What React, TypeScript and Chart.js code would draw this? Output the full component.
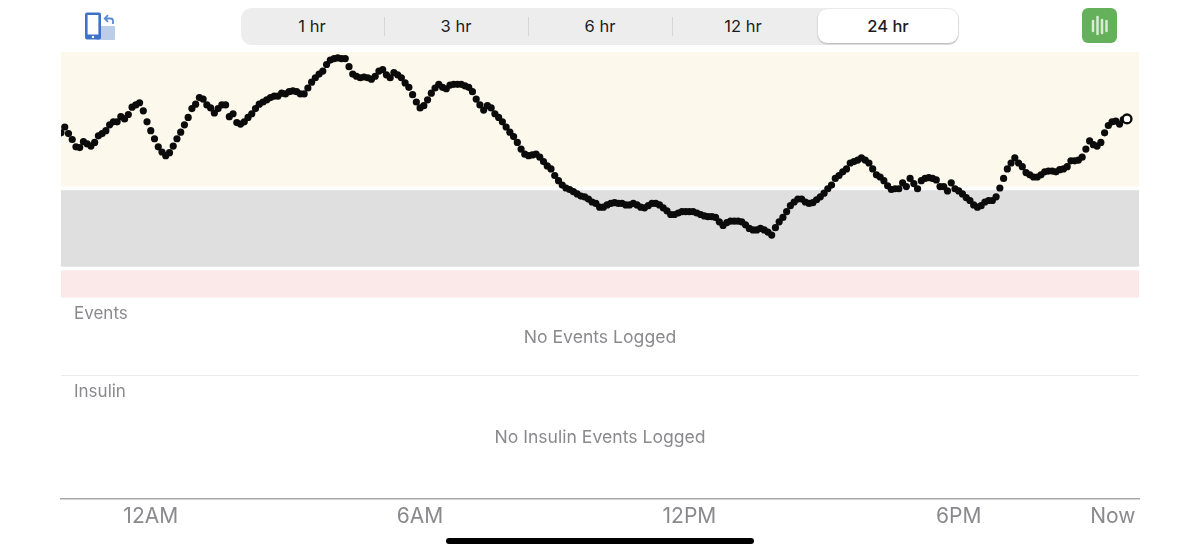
import { useEffect, useRef } from 'react';
import { Chart, registerables } from 'chart.js';

Chart.register(...registerables);

// one reading every 5 minutes, starting 2 hours before midnight (mg/dL)
const glucose = [
  255, 263, 254, 246, 236, 235, 243, 240, 237, 242, 251, 254, 258, 266, 270, 270, 277, 274, 280, 290,
  293, 296, 285, 270, 258, 247, 236, 229, 224, 228, 237, 247, 256, 266, 276, 288, 294, 303, 301, 293,
  289, 282, 288, 293, 293, 277, 281, 269, 267, 270, 276, 281, 288, 294, 297, 300, 303, 305, 305, 309,
  308, 311, 312, 311, 308,
  308, 316, 324, 330, 335, 339, 348, 354, 356, 357, 356, 356, 345, 335, 332, 330, 331, 330, 328, 332,
  339, 341, 334, 330, 337, 334, 330, 323, 317, 307, 297, 289, 292, 300, 309, 316, 321, 317, 315, 320,
  321, 321, 321, 319, 317, 311, 301, 293, 286, 292, 289, 281, 276, 270, 263, 256, 250, 242, 233, 226,
  224, 225, 226, 222,
  216, 210, 206, 197, 190, 184, 180, 178, 175, 172, 169, 168, 165, 161, 159, 154, 154, 157, 159, 160,
  159, 159, 157, 157, 159, 157, 154, 153, 156, 159, 159, 157, 153, 149, 144, 144, 146, 148, 148, 148,
  148, 146, 144, 142, 141, 141, 140, 134, 129, 133, 135, 135, 135, 134, 130, 125, 123, 123, 125, 123,
  120, 116, 126, 134, 140, 148, 156, 161,
  165, 165, 161, 159, 160, 164, 168, 173, 179, 184, 193, 197, 202, 206, 214, 216, 218, 221, 218, 214,
  206, 198, 195, 190, 183, 178, 179, 179, 187, 182, 193, 186, 179, 190, 193, 194, 193, 191, 182, 182,
  176, 187, 179, 176, 172, 167, 163, 157, 154, 156, 161, 163, 163, 168, 180, 193, 206, 214, 221, 214,
  209, 201, 198, 195, 195, 198, 202, 203, 203, 202, 205, 206, 209, 217, 217, 218, 222, 233, 244, 239,
  237, 242, 255, 265, 270, 271, 267, 273, 274,
];
const firstReadingMinute = -120;
const readingStep = 5;

const tickMinutes = [0, 360, 720, 1080, 1286];
const tickLabels = ['12AM', '6AM', '12PM', '6PM', 'Now'];

const bandTops = [365, 177, 68];
const bandBottoms = [182, 73, 31];
const bandColors = ['#FCF8EB', '#DFDFE0', '#FBE9E9'];

const ranges = ['1 hr', '3 hr', '6 hr', '12 hr', '24 hr'];

const grey = '#8A8A8E';
const font = 'Inter, "Noto Sans", sans-serif';

const bandsPlugin = {
  id: 'bands',
  beforeDatasetsDraw(chart: any) {
    const { ctx, chartArea, scales } = chart;
    bandTops.forEach((top, i) => {
      const y1 = scales.y.getPixelForValue(top);
      const y2 = scales.y.getPixelForValue(bandBottoms[i]);
      ctx.fillStyle = bandColors[i];
      ctx.fillRect(chartArea.left, y1, chartArea.right - chartArea.left, y2 - y1);
    });
  },
};

function Label({ text, left, top }: { text: string; left: number; top: number }) {
  return <div style={{ position: 'absolute', left, top, fontSize: 17, lineHeight: '20px', color: grey }}>{text}</div>;
}

function Centered({ text, top }: { text: string; top: number }) {
  return (
    <div style={{ position: 'absolute', left: 0, width: 1200, top, textAlign: 'center', fontSize: 17.6, lineHeight: '20px', color: grey }}>
      {text}
    </div>
  );
}

function Segments() {
  const centers = [312, 456, 600, 743, 888];
  const dividers = [384, 528, 672];
  return (
    <>
      <div style={{ position: 'absolute', left: 241, top: 8, width: 718, height: 37, background: '#EDEDEE', borderRadius: 11 }} />
      {dividers.map((x) => (
        <div key={x} style={{ position: 'absolute', left: x, top: 17, width: 1, height: 19, background: '#D6D6D8' }} />
      ))}
      <div style={{ position: 'absolute', left: 818, top: 9, width: 140, height: 34, background: '#fff', borderRadius: 9, boxShadow: '0 1px 2px rgba(0,0,0,0.25)' }} />
      {ranges.map((r, i) => (
        <div
          key={r}
          style={{
            position: 'absolute', left: centers[i] - 50, width: 100, top: 16, lineHeight: '20px', textAlign: 'center',
            fontSize: 16.5, fontWeight: i === 4 ? 500 : 400, color: '#1C1C1E',
          }}
        >
          {r}
        </div>
      ))}
    </>
  );
}

function PhoneIcon() {
  return (
    <svg style={{ position: 'absolute', left: 85, top: 12 }} width="31" height="29" viewBox="0 0 31 29">
      <rect x="11" y="14" width="19" height="14" rx="1" fill="#BCCDEA" />
      <rect x="0" y="0.5" width="16" height="27" rx="2" fill="#3E72C4" />
      <rect x="2.6" y="3" width="10.8" height="19.5" fill="#fff" />
      <circle cx="8" cy="25" r="1.2" fill="#fff" />
      <path d="M28 12 V9 Q28 6.5 25.5 6.5 H20 M23 3.2 L19.7 6.5 L23 9.8" fill="none" stroke="#5E8BD0" strokeWidth="1.8" />
    </svg>
  );
}

function GreenButton() {
  return (
    <svg style={{ position: 'absolute', left: 1082, top: 8 }} width="36" height="36" viewBox="0 0 36 36">
      <rect width="35" height="35" rx="6" fill="#65B05A" />
      <g stroke="#D9EDD5" strokeWidth="2.5" strokeLinecap="round">
        <line x1="11" y1="13" x2="11" y2="23" />
        <line x1="15.5" y1="9" x2="15.5" y2="26" />
        <line x1="20" y1="12" x2="20" y2="25" />
        <line x1="24.5" y1="13" x2="24.5" y2="23" />
      </g>
    </svg>
  );
}

export default function App() {
  const canvasRef = useRef<HTMLCanvasElement>(null);

  useEffect(() => {
    if (!canvasRef.current) return;
    const last = glucose.length - 1;
    const chart = new Chart(canvasRef.current, {
      type: 'scatter',
      data: {
        datasets: [{
          data: glucose.map((v, i) => ({ x: firstReadingMinute + i * readingStep, y: v })),
          showLine: false,
          clip: 0,
          pointRadius: (c: any) => (c.dataIndex === last ? 4.4 : 3.6),
          pointBorderWidth: (c: any) => (c.dataIndex === last ? 2.4 : 0),
          pointBackgroundColor: (c: any) => (c.dataIndex === last ? '#fff' : '#0B0B0B'),
          pointBorderColor: '#0B0B0B',
        }],
      },
      plugins: [bandsPlugin],
      options: {
        animation: false,
        responsive: false,
        layout: { padding: { left: 61, right: 61, top: 52, bottom: 0 } },
        plugins: { legend: { display: false }, tooltip: { enabled: false } },
        scales: {
          x: {
            type: 'linear',
            min: -120,
            max: 1321,
            grid: { display: false },
            border: { color: '#A9A9AB', width: 1.5 },
            afterBuildTicks: (s: any) => { s.ticks = tickMinutes.map((value) => ({ value })); },
            afterFit: (s: any) => { s.height = 56; },
            ticks: {
              autoSkip: false,
              maxRotation: 0,
              padding: -3,
              color: grey,
              font: { family: font, size: 21 },
              callback: (v: any) => tickLabels[tickMinutes.indexOf(v)],
            },
          },
          y: { display: false, min: -243, max: 365 },
        },
      },
    });
    return () => chart.destroy();
  }, []);

  return (
    <div style={{ position: 'fixed', left: 0, top: 0, width: 1200, height: 555, background: '#fff', fontFamily: font, overflow: 'hidden' }}>
      <canvas ref={canvasRef} width={1200} height={555} style={{ position: 'absolute', left: 0, top: 0 }} />
      <PhoneIcon />
      <Segments />
      <GreenButton />
      <Label text="Events" left={74} top={303} />
      <Centered text="No Events Logged" top={327} />
      <div style={{ position: 'absolute', left: 61, width: 1078, top: 375, height: 1, background: '#EBEBEB' }} />
      <Label text="Insulin" left={74} top={381} />
      <Centered text="No Insulin Events Logged" top={427} />
      <div style={{ position: 'absolute', left: 446, width: 308, top: 538, height: 6, borderRadius: 3, background: '#000' }} />
    </div>
  );
}
